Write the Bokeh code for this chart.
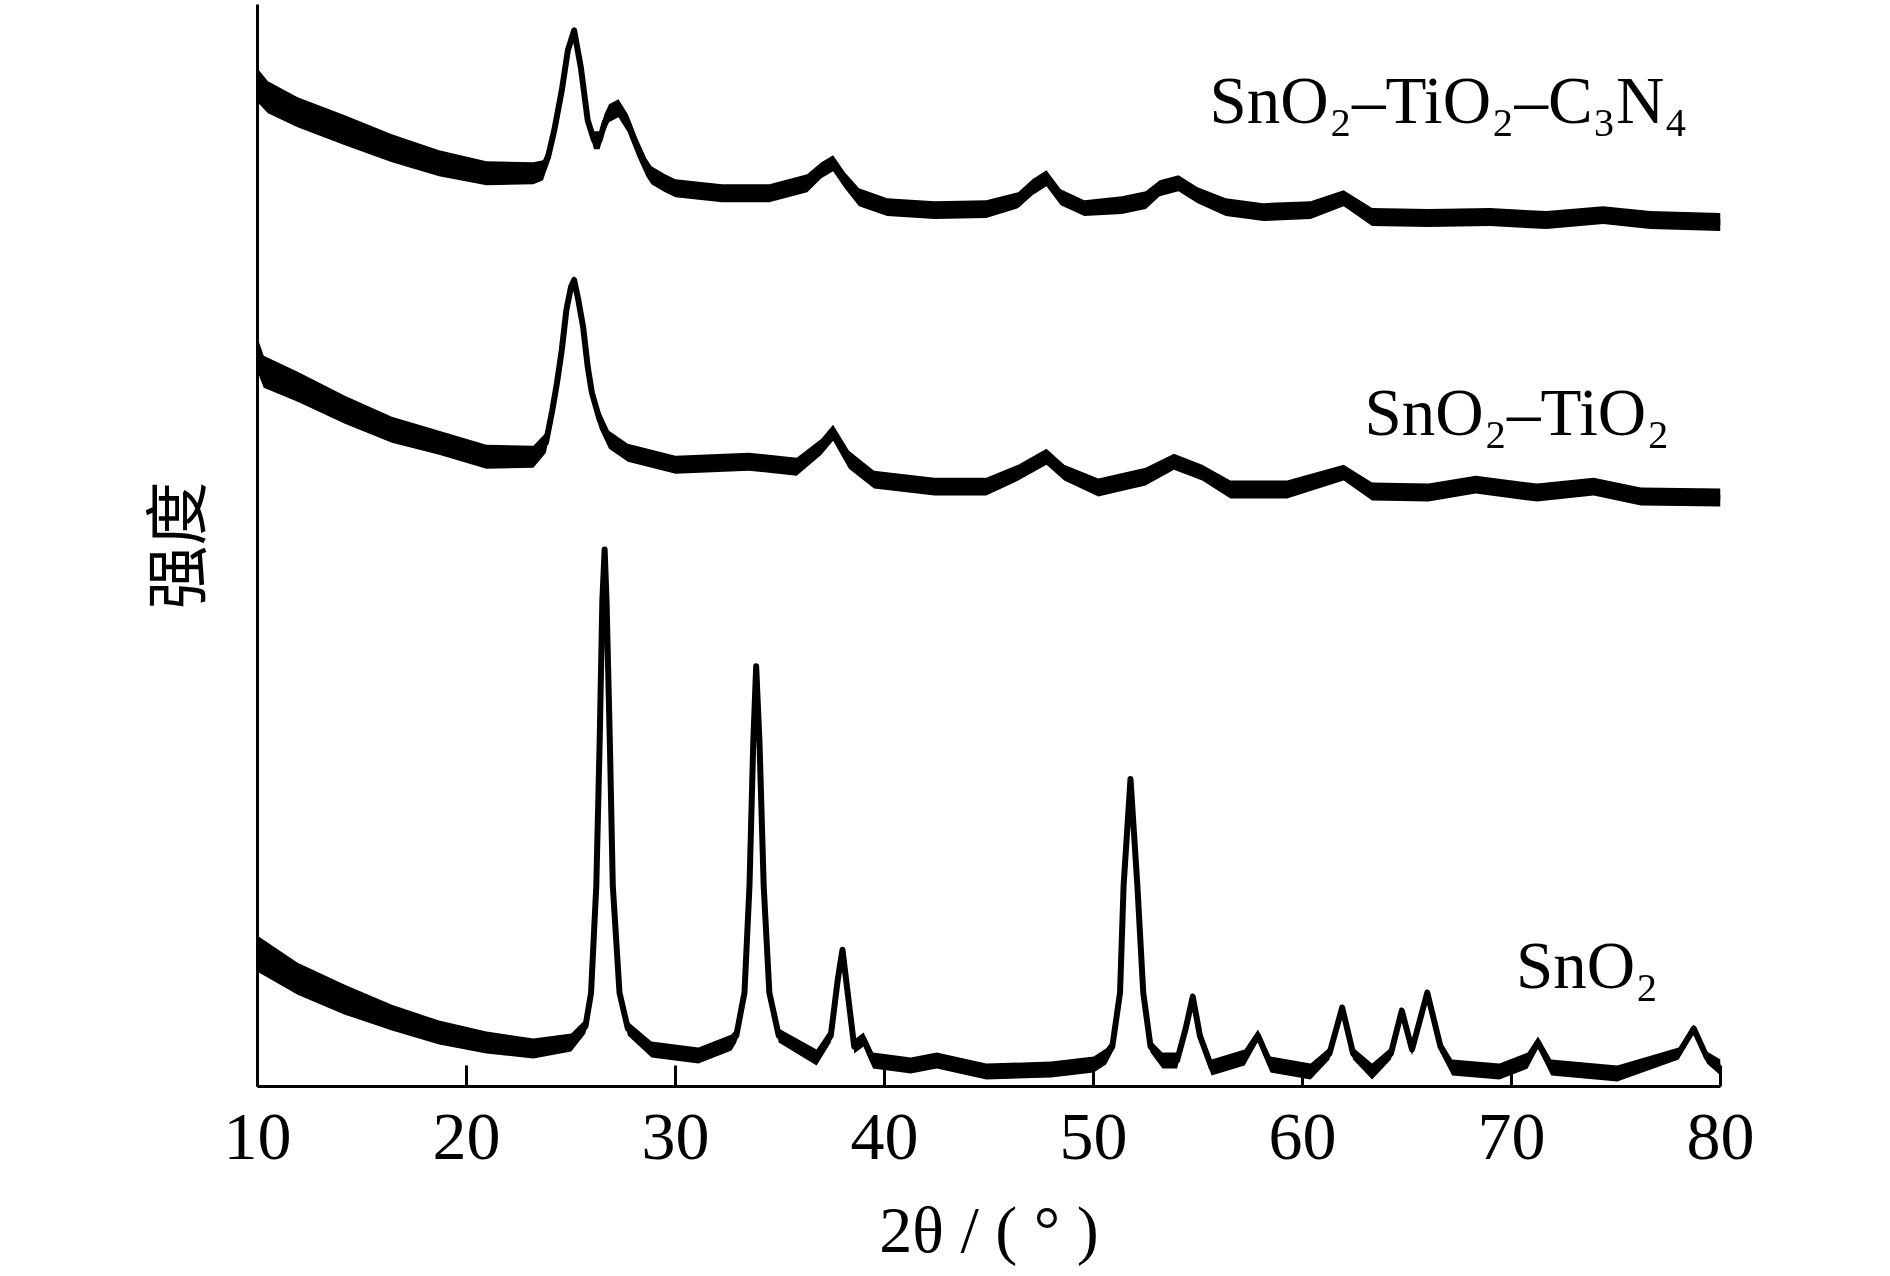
from bokeh.plotting import figure
from bokeh.models import Range1d, FixedTicker, Label, ColumnDataSource
from bokeh.embed import file_html
from bokeh.resources import INLINE

# ---------------- data (2theta in degrees, intensity in a.u.) ----------------
tick_values = [10, 20, 30, 40, 50, 60, 70, 80]

# SnO2-TiO2-C3N4 (top trace)
tt_c3n4 = [10.0, 10.5, 11.92, 14.18, 16.43, 18.69, 20.95, 23.2, 23.66, 23.9,
           24.2, 24.56, 24.85, 25.15, 25.47, 25.8, 26.1, 26.37, 26.6, 26.82,
           27.27, 27.72, 28.17, 28.6, 28.85, 29.5, 30.0, 32.23, 34.49, 36.3,
           36.98, 37.54, 38.1, 38.78, 40.13, 42.39, 44.87, 46.4, 47.08, 47.75,
           48.43, 49.56, 51.36, 52.5, 53.17, 54.07, 54.98, 56.33, 58.13, 60.39,
           61.97, 63.33, 66.03, 68.97, 71.68, 74.38, 76.64, 80.0]
int_c3n4 = [1003, 991, 976, 958, 940, 925, 915, 915, 918, 931,
            958, 998, 1038, 1058, 1021, 968, 948, 948, 965, 975,
            980, 965, 941, 921, 913, 905, 900, 895, 895, 905,
            918, 925, 908, 891, 881, 878, 879, 888, 901, 910,
            891, 880, 883, 888, 900, 905, 893, 881, 876, 878,
            890, 871, 870, 871, 868, 873, 868, 866]
noise_c3n4 = [17, 16, 15, 15, 14, 13, 12, 11, 10, 8,
              6, 5, 5, 4, 5, 6, 9, 9, 9, 9,
              9, 9, 9, 9, 9, 9, 9, 9, 9, 9,
              8, 8, 8, 9, 9, 9, 9, 8, 8, 8,
              8, 8, 9, 9, 8, 8, 8, 9, 9, 9,
              8, 9, 9, 9, 9, 9, 9, 9]

# SnO2-TiO2 (middle trace)
tt_tio2 = [10.0, 10.3, 11.92, 14.18, 16.43, 18.69, 20.95, 23.2, 23.8, 24.11,
           24.33, 24.56, 24.78, 25.0, 25.15, 25.35, 25.58, 25.8, 26.0, 26.37,
           26.82, 27.72, 30.0, 33.5, 35.8, 36.98, 37.54, 38.3, 39.5, 42.39,
           44.87, 46.4, 47.75, 48.6, 50.23, 52.49, 53.85, 55.2, 56.55, 59.26,
           61.97, 63.33, 66.03, 68.29, 71.22, 73.93, 76.19, 80.0]
int_tio2 = [733, 716, 701, 678, 658, 645, 631, 631, 645, 678,
            705, 738, 778, 801, 808, 788, 761, 721, 695, 668,
            648, 635, 623, 626, 621, 641, 655, 628, 608, 601,
            601, 615, 631, 615, 600, 611, 626, 615, 598, 598,
            615, 596, 595, 603, 595, 601, 591, 590]
noise_tio2 = [17, 16, 15, 14, 13, 12, 12, 11, 10, 8,
              6, 5, 5, 5, 4, 5, 5, 6, 8, 9,
              9, 9, 9, 9, 9, 8, 8, 9, 9, 9,
              9, 8, 8, 8, 9, 9, 8, 8, 9, 9,
              8, 9, 9, 9, 9, 9, 9, 9]

# SnO2 (bottom trace)
tt_sno2 = [10.0, 11.92, 14.18, 16.43, 18.69, 20.95, 23.2, 25.01, 25.69, 25.96,
           26.21, 26.37, 26.5, 26.61, 26.7, 26.86, 27.0, 27.32, 27.72, 28.85,
           31.1, 32.68, 32.91, 33.3, 33.54, 33.72, 33.86, 34.02, 34.22, 34.49,
           34.94, 36.75, 37.43, 37.77, 37.99, 38.22, 38.55, 39.0, 39.45, 41.26,
           42.5, 44.87, 47.98, 50.01, 50.6, 50.9, 51.27, 51.44, 51.77, 52.1,
           52.38, 52.73, 53.3, 54.0, 54.41, 54.75, 55.09, 55.65, 57.23, 57.87,
           58.47, 60.39, 61.29, 61.9, 62.42, 63.33, 64.23, 64.75, 65.24, 65.97,
           66.6, 67.16, 69.42, 70.77, 71.27, 71.9, 75.06, 78.0, 78.72, 79.35,
           80.0]
int_sno2 = [133, 108, 87, 69, 54, 44, 38, 44, 60, 94,
            201, 344, 487, 538, 487, 344, 201, 94, 58, 37,
            31, 44, 51, 94, 201, 344, 421, 344, 201, 94,
            51, 29, 51, 108, 137, 97, 40, 47, 26, 21,
            26, 15, 17, 22, 30, 40, 94, 201, 308, 201,
            94, 40, 26, 26, 58, 90, 51, 19, 29, 51,
            22, 15, 33, 79, 33, 15, 33, 76, 37, 94,
            40, 19, 15, 26, 44, 19, 13, 33, 58, 29,
            19]
noise_sno2 = [18, 16, 15, 13, 12, 11, 10, 9, 7, 4,
              2, 2, 2, 2, 2, 2, 2, 4, 7, 8,
              8, 8, 7, 4, 2, 2, 2, 2, 2, 4,
              7, 8, 7, 4, 3, 4, 7, 7, 8, 8,
              8, 8, 8, 8, 8, 6, 3, 2, 2, 2,
              3, 6, 8, 8, 6, 4, 6, 8, 8, 6,
              8, 8, 6, 4, 6, 8, 6, 4, 6, 4,
              6, 8, 8, 8, 6, 8, 8, 6, 4, 6,
              8]

labels = ["SnO₂–TiO₂–C₃N₄", "SnO₂–TiO₂", "SnO₂"]
label_x = [55.55, 62.97, 70.21]
label_y = [988, 676, 122]

SERIF = "Liberation Serif"

p = figure(width=1870, height=1268,
           x_range=Range1d(10, 80), y_range=Range1d(0, 1084),
           output_backend="svg", toolbar_location=None,
           min_border_left=257, min_border_right=150,
           min_border_top=4, min_border_bottom=180)
p.outline_line_color = None
p.grid.visible = False
p.background_fill_color = "white"
p.border_fill_color = "white"

traces = [(tt_c3n4, int_c3n4, noise_c3n4),
          (tt_tio2, int_tio2, noise_tio2),
          (tt_sno2, int_sno2, noise_sno2)]

for (xs, ys, nz), name, lx, ly in zip(traces, labels, label_x, label_y):
    src = ColumnDataSource(dict(
        x=xs, y=ys,
        lo=[a - b for a, b in zip(ys, nz)],
        hi=[a + b for a, b in zip(ys, nz)],
    ))
    p.varea(x="x", y1="lo", y2="hi", source=src, fill_color="black", fill_alpha=1.0)
    p.line(x="x", y="y", source=src, line_color="black", line_width=6, line_join="round")
    p.add_layout(Label(x=lx, y=ly, text=name, text_font=SERIF, text_font_size="67px",
                       text_color="black", text_align="left", text_baseline="alphabetic"))

xa = p.xaxis[0]
xa.ticker = FixedTicker(ticks=tick_values)
xa.axis_line_width = 3
xa.axis_line_color = "black"
xa.major_tick_in = 21
xa.major_tick_out = 0
xa.major_tick_line_width = 3
xa.major_tick_line_color = "black"
xa.minor_tick_line_color = None
xa.major_label_text_font = SERIF
xa.major_label_text_font_size = "68px"
xa.major_label_text_color = "black"
xa.major_label_standoff = 28
xa.axis_label = "2θ / ( ° )"
xa.axis_label_text_font = SERIF
xa.axis_label_text_font_size = "66px"
xa.axis_label_text_font_style = "normal"
xa.axis_label_text_color = "black"
xa.axis_label_standoff = 31

ya = p.yaxis[0]
ya.ticker = FixedTicker(ticks=[])
ya.axis_line_width = 3
ya.axis_line_color = "black"
ya.major_tick_line_color = None
ya.minor_tick_line_color = None
ya.major_label_text_font_size = "0px"
ya.axis_label = "强度"
ya.axis_label_text_font = "Noto Sans CJK SC"
ya.axis_label_text_font_size = "64px"
ya.axis_label_text_font_style = "normal"
ya.axis_label_text_color = "black"
ya.axis_label_standoff = 40

open("out.html", "w").write(file_html(p, INLINE))
